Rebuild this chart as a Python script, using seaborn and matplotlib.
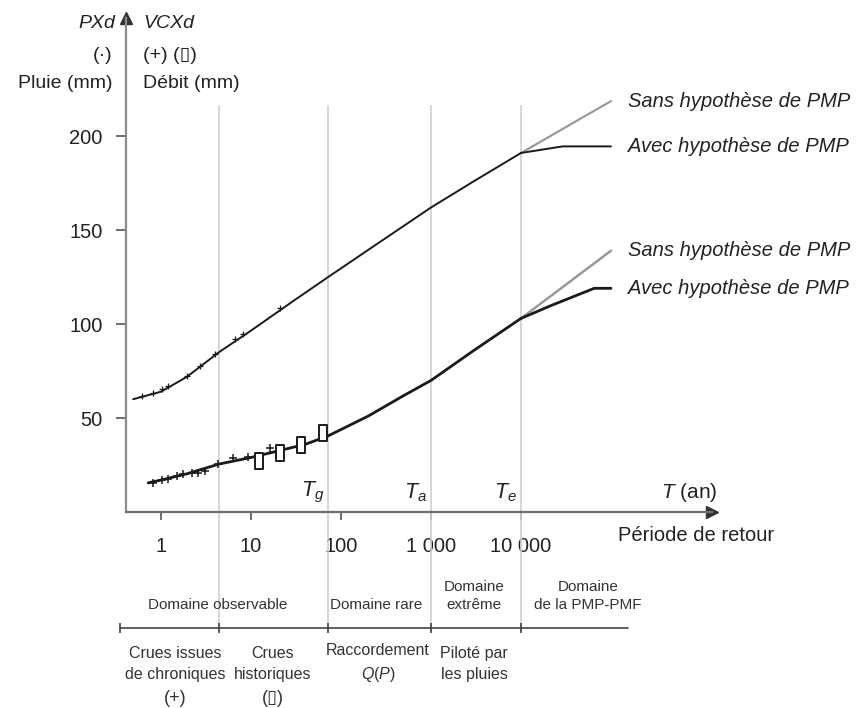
import matplotlib
matplotlib.use("Agg")
import matplotlib.pyplot as plt
from matplotlib.path import Path
import seaborn as sns

# ---- data: return period T (years) and depth (mm) ----
rain_T = [0.49, 1, 1.95, 4.4, 10, 30, 72, 200, 1000, 3000, 10000]
rain_mm = [60, 64, 72, 85, 96.5, 112.5, 125, 139.4, 162, 176, 191]
rain_pmp_T = [10000, 29000, 100000]
rain_pmp_mm = [191, 194.5, 194.5]
rain_free_T = [10000, 100000]
rain_free_mm = [191, 218.6]

flow_T = [0.72, 1, 2, 4.4, 10, 20, 40, 72, 200, 500, 1000, 3000, 10000]
flow_mm = [15.5, 17, 20.5, 25.5, 29, 32.5, 36, 40.5, 51, 62, 70, 86, 103]
flow_pmp_T = [10000, 21000, 65000, 100000]
flow_pmp_mm = [103, 109.6, 119, 119]
flow_free_T = [10000, 100000]
flow_free_mm = [103, 139]

rain_obs_T = [0.61, 0.81, 1.02, 1.2, 1.93, 2.71, 3.98, 6.6, 8.1, 21]
rain_obs_mm = [61.7, 63.3, 65.4, 67.0, 72.3, 77.7, 84.0, 92.0, 94.7, 108.5]
flow_obs_T = [0.82, 1.02, 1.21, 1.49, 1.77, 2.19, 2.59, 3.08, 4.33, 6.35, 9.3, 16.3]
flow_obs_mm = [15.6, 16.9, 17.4, 19.1, 20.1, 20.9, 20.9, 21.8, 25.4, 28.9, 29.3, 34.3]
hist_T = [12.4, 21, 36, 63]
hist_mm = [27.1, 31.5, 35.6, 42.2]

tick_T = [1, 10, 100, 1000, 10000]
tick_labels = ["1", "10", "100", "1 000", "10 000"]
y_ticks = [50, 100, 150, 200]
bounds_T = [4.4, 72, 1000, 10000]
thresholds = [(72, "$T_g$"), (1000, "$T_a$"), (10000, "$T_e$")]

domains = [(4.3, "Domaine observable"), (243, "Domaine rare"),
           (3000, "Domaine\nextrême"), (55500, "Domaine\nde la PMP-PMF")]
methods = [(1.43, "Crues issues\nde chroniques", "(+)"),
           (17.4, "Crues\nhistoriques", "(\u25af)"),
           (258, "Raccordement\n$Q$($P$)", None),
           (3000, "Piloté par\nles pluies", None)]

sns.set_theme(style="white")
plt.rcParams["font.family"] = ["Liberation Sans", "DejaVu Sans"]
plt.rcParams["mathtext.fontset"] = "custom"
plt.rcParams["mathtext.it"] = "Liberation Sans:italic"
plt.rcParams["mathtext.rm"] = "Liberation Sans"

W, H = 858, 708
fig = plt.figure(figsize=(W / 100, H / 100), dpi=100)
ax = fig.add_axes([126 / W, (H - 512) / H, (712 - 126) / W, (512 - 18) / H])
ax.set_xscale("log")
ax.set_xlim(0.408, 1.325e6)
ax.set_ylim(0, 262.8)

ink = "#1a1a1a"
grey = "#9a9a9a"

# domain boundaries
ax.vlines(bounds_T, -63.8, 216.5, color="#cfcfcf", lw=1.2, clip_on=False, zorder=1)

# rainfall curve (PXd)
sns.lineplot(x=rain_free_T, y=rain_free_mm, ax=ax, color=grey, lw=1.6, estimator=None, sort=False)
sns.lineplot(x=rain_pmp_T, y=rain_pmp_mm, ax=ax, color=ink, lw=1.4, estimator=None, sort=False)
sns.lineplot(x=rain_T, y=rain_mm, ax=ax, color=ink, lw=1.4, estimator=None, sort=False)
sns.scatterplot(x=rain_obs_T, y=rain_obs_mm, ax=ax, marker="+", s=22, color=ink,
                linewidth=0.9, edgecolor=None, zorder=4)

# flow curve (VCXd)
sns.lineplot(x=flow_free_T, y=flow_free_mm, ax=ax, color=grey, lw=1.8, estimator=None, sort=False)
sns.lineplot(x=flow_pmp_T, y=flow_pmp_mm, ax=ax, color=ink, lw=2.0, estimator=None, sort=False)
sns.lineplot(x=flow_T, y=flow_mm, ax=ax, color=ink, lw=2.0, estimator=None, sort=False)
sns.scatterplot(x=flow_obs_T, y=flow_obs_mm, ax=ax, marker="+", s=40, color=ink,
                linewidth=1.1, edgecolor=None, zorder=4)

# historical floods drawn as tall open rectangles
box = Path([(-0.27, -0.5), (0.27, -0.5), (0.27, 0.5), (-0.27, 0.5), (-0.27, -0.5)],
           [Path.MOVETO, Path.LINETO, Path.LINETO, Path.LINETO, Path.CLOSEPOLY])
sns.scatterplot(x=hist_T, y=hist_mm, ax=ax, marker=box, s=125, facecolor="white",
                edgecolor=ink, linewidth=1.4, zorder=5)

# end-of-curve labels
for yv, txt in [(rain_free_mm[-1], "Sans hypothèse de PMP"), (rain_pmp_mm[-1], "Avec hypothèse de PMP"),
                (flow_free_mm[-1], "Sans hypothèse de PMP"), (flow_pmp_mm[-1], "Avec hypothèse de PMP")]:
    ax.text(1.55e5, yv, txt, fontsize=14.5, style="italic", color="#222", va="center", ha="left")

# threshold labels
for t, lab in thresholds:
    ax.text(t / 1.11, 10.5, lab, fontsize=15.5, color="#222", ha="right", va="center")
ax.text(3.6e5, 10.5, "$T$ (an)", fontsize=15, color="#222", ha="left", va="center")
ax.text(1.2e5, -12.5, "Période de retour", fontsize=14.5, color="#222", ha="left", va="center")

# axes styling
for side in ["top", "right"]:
    ax.spines[side].set_visible(False)
ax.spines["left"].set_color("#8c8c8c")
ax.spines["left"].set_linewidth(1.6)
ax.spines["bottom"].set_color("#707070")
ax.spines["bottom"].set_linewidth(1.6)
ax.plot(1, 0, marker=">", color="#333", markersize=8, transform=ax.get_yaxis_transform(), clip_on=False)
ax.plot(0, 1, marker="^", color="#333", markersize=8, transform=ax.transAxes, clip_on=False)

ax.set_xticks(tick_T)
ax.set_xticklabels(tick_labels)
ax.xaxis.set_minor_locator(matplotlib.ticker.NullLocator())
ax.set_yticks(y_ticks)
ax.tick_params(axis="x", direction="out", length=6, width=1.2, color="#555", pad=12,
               labelsize=14.5, labelcolor="#222", bottom=True)
ax.tick_params(axis="y", direction="out", length=7, width=1.2, color="#555", pad=10,
               labelsize=14.5, labelcolor="#222", left=True)
ax.set_xlabel("")
ax.set_ylabel("")

# lower strip: domains and methods
yb = -61.7
ax.plot([0.35, 1.55e5], [yb, yb], color="#444", lw=1.2, clip_on=False)
ax.plot([0.35] + bounds_T, [yb] * 5, ls="none", marker="|", markersize=7, mew=1.2,
        color="#444", clip_on=False)
for t, txt in domains:
    ax.text(t, -49.5 if "\n" not in txt else -44.7, txt, fontsize=11, color="#333",
            ha="center", va="center", linespacing=1.3, clip_on=False)
for t, txt, sym in methods:
    ax.text(t, -80.8, txt, fontsize=11.5, color="#333", ha="center", va="center",
            linespacing=1.5, clip_on=False)
    if sym:
        ax.text(t, -99.2, sym, fontsize=13, color="#333", ha="center", va="center", clip_on=False)


# vertical-axis headings
def ftext(px, py, s, ha, **kw):
    fig.text(px / W, 1 - py / H, s, ha=ha, va="center", fontsize=14, color="#222", **kw)


ftext(115, 23, "PXd", "right", style="italic")
ftext(143, 23, "VCXd", "left", style="italic")
ftext(112, 55, "(\u00b7)", "right")
ftext(143, 55, "(+) (\u25af)", "left")
ftext(112, 83, "Pluie (mm)", "right")
ftext(143, 83, "Débit (mm)", "left")

fig.savefig("out.png", dpi=100)
